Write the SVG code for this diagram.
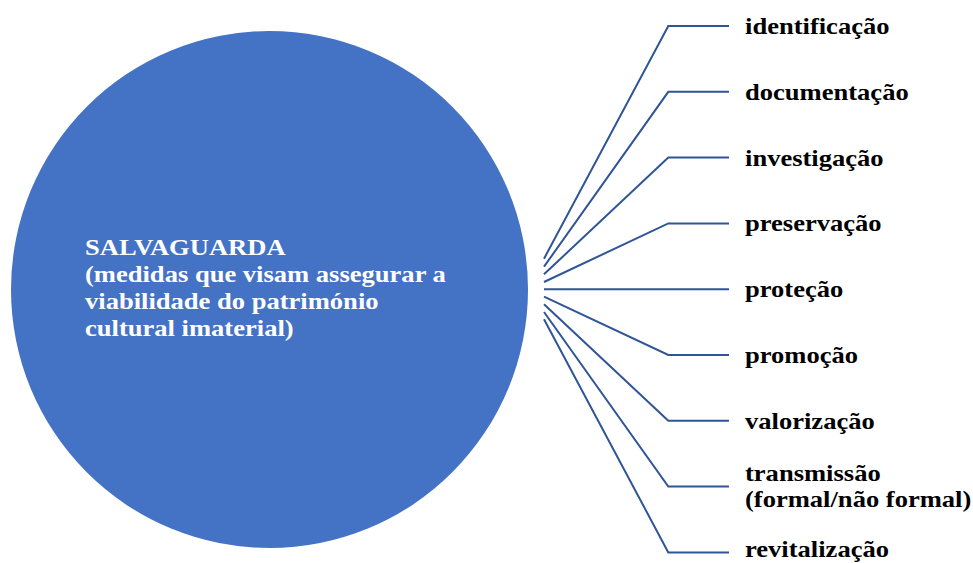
<svg xmlns="http://www.w3.org/2000/svg" width="973" height="563" viewBox="0 0 973 563">
<style>
.lbl{font-family:"Liberation Serif","Times New Roman",serif;font-weight:bold;font-size:23px;fill:#000}
.ctr{font-family:"Liberation Serif","Times New Roman",serif;font-weight:bold;font-size:23px;fill:#fff}
.c{fill:none;stroke:#2F5597;stroke-width:2}
</style>
<rect width="973" height="563" fill="#fff"/>
<g id="center">
<circle cx="269.5" cy="289.5" r="258.5" fill="#4472C4"/>
<g transform="matrix(1.155 0 0 1 85 0)">
<text class="ctr" x="0" y="255">SALVAGUARDA</text>
<text class="ctr" x="0" y="282.5">(medidas que visam assegurar a</text>
<text class="ctr" x="0" y="309.5">viabilidade do património</text>
<text class="ctr" x="0" y="336.5">cultural imaterial)</text>
</g>
</g>
<g id="connectors">
<polyline class="c" points="544,258.7 668.3,26 729,26"/>
<polyline class="c" points="544,266.7 668.3,91.8 729,91.8"/>
<polyline class="c" points="544,274.3 668.3,157.6 729,157.6"/>
<polyline class="c" points="544,282 668.3,223.4 729,223.4"/>
<polyline class="c" points="544,289.2 668.3,289.2 729,289.2"/>
<polyline class="c" points="544,296.7 668.3,355 729,355"/>
<polyline class="c" points="544,304.3 668.3,420.8 729,420.8"/>
<polyline class="c" points="544,312 668.3,486.6 729,486.6"/>
<polyline class="c" points="544,319.3 668.3,552.4 729,552.4"/>
</g>
<g id="n1" transform="matrix(1.155 0 0 1 745 0)"><text class="lbl" x="0" y="34">identificação</text></g>
<g id="n2" transform="matrix(1.155 0 0 1 745 0)"><text class="lbl" x="0" y="99.8">documentação</text></g>
<g id="n3" transform="matrix(1.155 0 0 1 745 0)"><text class="lbl" x="0" y="165.6">investigação</text></g>
<g id="n4" transform="matrix(1.155 0 0 1 745 0)"><text class="lbl" x="0" y="231.4">preservação</text></g>
<g id="n5" transform="matrix(1.155 0 0 1 745 0)"><text class="lbl" x="0" y="297.2">proteção</text></g>
<g id="n6" transform="matrix(1.155 0 0 1 745 0)"><text class="lbl" x="0" y="363">promoção</text></g>
<g id="n7" transform="matrix(1.155 0 0 1 745 0)"><text class="lbl" x="0" y="428.8">valorização</text></g>
<g id="n8" transform="matrix(1.155 0 0 1 745 0)"><text class="lbl" x="0" y="481.5">transmissão</text><text class="lbl" x="0" y="507.5">(formal/não formal)</text></g>
<g id="n9" transform="matrix(1.155 0 0 1 745 0)"><text class="lbl" x="0" y="557.5">revitalização</text></g>
</svg>
